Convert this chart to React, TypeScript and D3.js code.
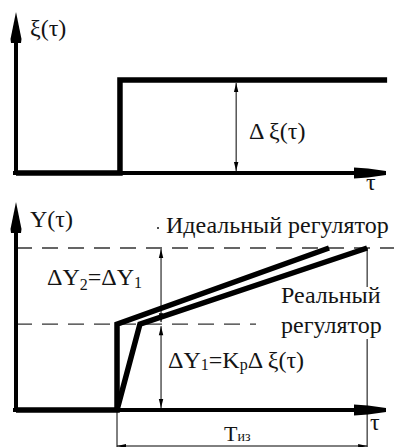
import React from "react";
import * as d3 from "d3";

// Time axis (dimensionless τ) shared by both panels
const tauDomain = [0, 10];

// Input disturbance ξ(τ): a unit step
const xiTau = [0, 2.81, 2.81, 10.03];
const xiVal = [0, 0, 1, 1];

// Regulator output Y(τ), normalised so that 2·ΔY1 = 1
const levelDY1 = 0.53;
const levelDY2 = 1.0;
const idealTau = [0, 2.73, 2.73, 8.46];
const idealVal = [0, 0, levelDY1, levelDY2];
const realTau = [2.73, 3.35, 9.49];
const realVal = [0, levelDY1, levelDY2];

// Dimension markers
const dXiTau = 5.95; // Δξ arrow
const dYTau = 3.92; // ΔY1 / ΔY2 arrows
const tizStart = 2.73;
const tizEnd = 9.49;

const W = 394;
const H = 447;
const INK = "#000";
const TXT = "#141414";

const x = d3.scaleLinear().domain(tauDomain).range([16, 386]);
const yTop = d3.scaleLinear().domain([0, 1]).range([173, 80]);
const yBot = d3.scaleLinear().domain([0, 1]).range([410, 248]);

const zip = (a: number[], b: number[]) => a.map((v, i) => [v, b[i]] as [number, number]);

function VArrowHead({ cx, tip }: { cx: number; tip: number }) {
  // long narrow arrowhead of an axis pointing up
  const d = `M${cx},${tip} L${cx + 5.5},${tip + 27} L${cx + 5},${tip + 31} L${cx - 5},${tip + 31} L${cx - 5.5},${tip + 27} Z`;
  return <path d={d} fill={INK} />;
}

function HArrowHead({ tip, cy }: { tip: number; cy: number }) {
  // axis arrowhead pointing right
  const d = `M${tip - 32},${cy - 5.5} L${tip - 18},${cy - 4.5} L${tip},${cy - 2} L${tip},${cy + 2} L${tip - 18},${cy + 4.5} L${tip - 32},${cy + 5.5} Z`;
  return <path d={d} fill={INK} />;
}

function DimV({ cx, y1, y2 }: { cx: number; y1: number; y2: number }) {
  // thin vertical dimension line with arrowheads at both ends (y1 < y2)
  const L = 9;
  const w = 2.2;
  return (
    <g>
      <line x1={cx} x2={cx} y1={y1} y2={y2} stroke={INK} strokeWidth={1} />
      <path d={`M${cx},${y1} L${cx + w},${y1 + L} L${cx - w},${y1 + L} Z`} fill={INK} />
      <path d={`M${cx},${y2} L${cx + w},${y2 - L} L${cx - w},${y2 - L} Z`} fill={INK} />
    </g>
  );
}

function DimH({ x1, x2, cy }: { x1: number; x2: number; cy: number }) {
  const L = 9;
  const w = 2;
  return (
    <g>
      <line x1={x1} x2={x2} y1={cy} y2={cy} stroke={INK} strokeWidth={1} />
      <path d={`M${x1},${cy} L${x1 + L},${cy - w} L${x1 + L},${cy + w} Z`} fill={INK} />
      <path d={`M${x2},${cy} L${x2 - L},${cy - w} L${x2 - L},${cy + w} Z`} fill={INK} />
    </g>
  );
}

export default function App() {
  const line = d3.line<[number, number]>();
  const topPath = line(zip(xiTau, xiVal).map(([t, v]) => [x(t), yTop(v)]))!;
  const idealPath = line(zip(idealTau, idealVal).map(([t, v]) => [x(t), yBot(v)]))!;
  const realPath = line(zip(realTau, realVal).map(([t, v]) => [x(t), yBot(v)]))!;

  const x0 = x(0);
  const xEnd = x(tauDomain[1]);
  const yLvl1 = yBot(levelDY1);
  const yLvl2 = yBot(levelDY2);

  return (
    <div style={{ position: "fixed", left: 0, top: 0, width: W, height: H, fontFamily: '"Times New Roman"' }}>
      <svg width={W} height={H} style={{ display: "block" }}>
        <rect width={W} height={H} fill="#fff" />

        {/* ===== Upper panel: ξ(τ) ===== */}
        <line x1={x0} x2={x0} y1={yTop(0) + 2} y2={40} stroke={INK} strokeWidth={4} />
        <VArrowHead cx={x0} tip={12} />
        <line x1={x0 - 3} x2={xEnd - 20} y1={yTop(0)} y2={yTop(0)} stroke={INK} strokeWidth={4} />
        <HArrowHead tip={xEnd} cy={yTop(0)} />
        <path d={topPath} fill="none" stroke={INK} strokeWidth={5.5} strokeLinejoin="miter" />
        <DimV cx={x(dXiTau)} y1={yTop(1) + 3} y2={yTop(0) - 2} />

        <text x={30} y={36} fontSize={24} fill={TXT}>ξ(τ)</text>
        <text x={249} y={139} fontSize={24} fill={TXT}>Δ ξ(τ)</text>
        <text x={366} y={190} fontSize={24} fill={TXT}>τ</text>

        {/* ===== Lower panel: Y(τ) ===== */}
        <line x1={x0} x2={W} y1={yLvl2} y2={yLvl2} stroke="#333" strokeWidth={1.4} strokeDasharray="16 10" />
        <line x1={x0} x2={256} y1={yLvl1} y2={yLvl1} stroke="#333" strokeWidth={1.4} strokeDasharray="16 10" />

        <line x1={x0} x2={x0} y1={yBot(0) + 2} y2={230} stroke={INK} strokeWidth={4} />
        <VArrowHead cx={x0} tip={202} />
        <line x1={x0 - 3} x2={xEnd - 20} y1={yBot(0)} y2={yBot(0)} stroke={INK} strokeWidth={4} />
        <HArrowHead tip={xEnd} cy={yBot(0)} />

        {/* Tиз extension lines */}
        <line x1={x(tizStart)} x2={x(tizStart)} y1={yBot(0)} y2={H} stroke={INK} strokeWidth={1} />
        <line x1={x(tizEnd)} x2={x(tizEnd)} y1={yLvl2} y2={287} stroke={INK} strokeWidth={1} />
        <line x1={x(tizEnd)} x2={x(tizEnd)} y1={339} y2={H} stroke={INK} strokeWidth={1} />
        <DimH x1={x(tizStart)} x2={x(tizEnd)} cy={446} />

        <path d={idealPath} fill="none" stroke={INK} strokeWidth={5.5} strokeLinejoin="miter" />
        <path d={realPath} fill="none" stroke={INK} strokeWidth={5.5} strokeLinejoin="miter" />

        <DimV cx={x(dYTau)} y1={yLvl2 + 1} y2={yLvl1 - 2} />
        <DimV cx={x(dYTau)} y1={yLvl1 + 2} y2={yBot(0) - 2} />

        <text x={30} y={227} fontSize={24} fill={TXT}>Y(τ)</text>
        <circle cx={158} cy={228} r={1} fill={TXT} />
        <text x={166} y={233} fontSize={24} fill={TXT}>Идеальный регулятор</text>
        <text x={47} y={285} fontSize={24} fill={TXT}>
          ΔY<tspan fontSize={16} dy={5}>2</tspan>
          <tspan dy={-5}>=ΔY</tspan>
          <tspan fontSize={16} dy={3}>1</tspan>
        </text>
        <text x={281} y={303} fontSize={24} fill={TXT}>Реальный</text>
        <text x={281} y={333} fontSize={24} fill={TXT}>регулятор</text>
        <text x={168} y={368} fontSize={24} fill={TXT}>
          ΔY<tspan fontSize={16} dy={2}>1</tspan>
          <tspan dy={-2}>=K</tspan>
          <tspan fontSize={16} dy={2}>р</tspan>
          <tspan dy={-2}>Δ ξ(τ)</tspan>
        </text>
        <text x={370} y={430} fontSize={24} fill={TXT}>τ</text>
        <text x={224} y={441} fontSize={22} fill={TXT}>
          Т<tspan fontSize={14}>из</tspan>
        </text>
      </svg>
    </div>
  );
}
